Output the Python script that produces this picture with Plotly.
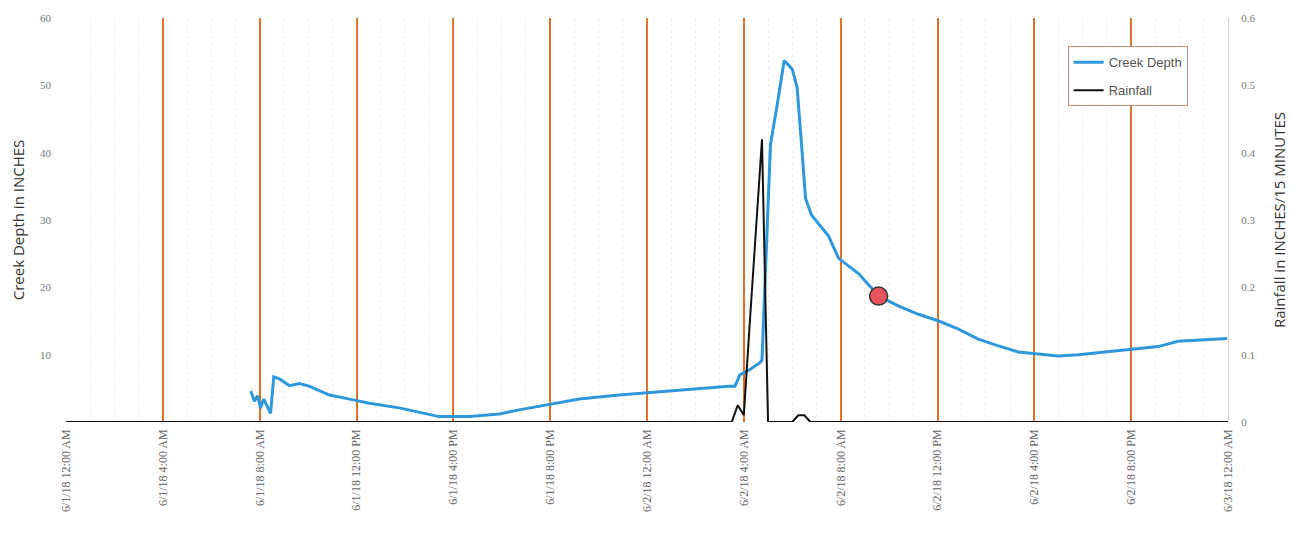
import plotly.graph_objects as go

# ---- data ----
depth_times = [
    "2018-06-01 07:38", "2018-06-01 07:47", "2018-06-01 07:55", "2018-06-01 08:02",
    "2018-06-01 08:10", "2018-06-01 08:17", "2018-06-01 08:27", "2018-06-01 08:35",
    "2018-06-01 08:49", "2018-06-01 09:14", "2018-06-01 09:39", "2018-06-01 10:04",
    "2018-06-01 10:28", "2018-06-01 10:53", "2018-06-01 11:43", "2018-06-01 12:32",
    "2018-06-01 13:46", "2018-06-01 14:36", "2018-06-01 15:25", "2018-06-01 16:40",
    "2018-06-01 17:54", "2018-06-01 18:43", "2018-06-01 19:57", "2018-06-01 21:12",
    "2018-06-01 22:51", "2018-06-02 00:30", "2018-06-02 02:09", "2018-06-02 03:23",
    "2018-06-02 03:38", "2018-06-02 03:50", "2018-06-02 04:15", "2018-06-02 04:40",
    "2018-06-02 04:45", "2018-06-02 04:55", "2018-06-02 05:06", "2018-06-02 05:23",
    "2018-06-02 05:40", "2018-06-02 06:00", "2018-06-02 06:12", "2018-06-02 06:22",
    "2018-06-02 06:33", "2018-06-02 06:48", "2018-06-02 07:30", "2018-06-02 07:55",
    "2018-06-02 08:45", "2018-06-02 09:34", "2018-06-02 10:24", "2018-06-02 11:13",
    "2018-06-02 12:03", "2018-06-02 12:52", "2018-06-02 13:41", "2018-06-02 14:31",
    "2018-06-02 15:20", "2018-06-02 16:10", "2018-06-02 16:59", "2018-06-02 17:49",
    "2018-06-02 18:38", "2018-06-02 19:53", "2018-06-02 21:07", "2018-06-02 21:56",
    "2018-06-02 22:46", "2018-06-02 23:58",
]
depth_values = [
    4.6, 3.1, 3.9, 2.1, 3.4, 2.5, 1.3, 6.7,
    6.4, 5.4, 5.7, 5.3, 4.7, 4.0, 3.4, 2.8,
    2.1, 1.4, 0.8, 0.8, 1.2, 1.8, 2.6, 3.4,
    4.0, 4.5, 5.0, 5.3, 5.3, 7.0, 7.8, 8.8,
    9.2, 25.0, 41.2, 47.2, 53.7, 52.4, 49.7, 42.0,
    33.2, 30.7, 27.6, 24.3, 22.0, 18.7, 17.2, 16.0,
    15.0, 13.8, 12.3, 11.3, 10.4, 10.1, 9.8, 10.0,
    10.3, 10.7, 11.2, 12.0, 12.2, 12.4,
]

rain_times = [
    "2018-06-01 00:00", "2018-06-02 03:30", "2018-06-02 03:45", "2018-06-02 04:00",
    "2018-06-02 04:15", "2018-06-02 04:30", "2018-06-02 04:45", "2018-06-02 05:00",
    "2018-06-02 06:00", "2018-06-02 06:15", "2018-06-02 06:30", "2018-06-02 06:45",
    "2018-06-03 00:00",
]
rain_values = [0, 0, 0.025, 0.01, 0.15, 0.28, 0.42, 0, 0, 0.01, 0.01, 0, 0]

marker_time = ["2018-06-02 09:34"]
marker_value = [18.7]

tick_times = [
    "2018-06-01 00:00", "2018-06-01 04:00", "2018-06-01 08:00", "2018-06-01 12:00",
    "2018-06-01 16:00", "2018-06-01 20:00", "2018-06-02 00:00", "2018-06-02 04:00",
    "2018-06-02 08:00", "2018-06-02 12:00", "2018-06-02 16:00", "2018-06-02 20:00",
    "2018-06-03 00:00",
]
tick_labels = [
    "6/1/18 12:00 AM", "6/1/18 4:00 AM", "6/1/18 8:00 AM", "6/1/18 12:00 PM",
    "6/1/18 4:00 PM", "6/1/18 8:00 PM", "6/2/18 12:00 AM", "6/2/18 4:00 AM",
    "6/2/18 8:00 AM", "6/2/18 12:00 PM", "6/2/18 4:00 PM", "6/2/18 8:00 PM",
    "6/3/18 12:00 AM",
]
left_ticks = [10, 20, 30, 40, 50, 60]
right_ticks = [0, 0.1, 0.2, 0.3, 0.4, 0.5, 0.6]

# ---- figure ----
fig = go.Figure()
fig.add_trace(go.Scatter(
    x=depth_times, y=depth_values, name="Creek Depth", mode="lines",
    line=dict(color="#2f98dc", width=3), yaxis="y", legendgroup="a",
))
fig.add_trace(go.Scatter(
    x=rain_times, y=rain_values, name="Rainfall", mode="lines",
    line=dict(color="#111111", width=2), yaxis="y2", legendgroup="b",
))
fig.add_trace(go.Scatter(
    x=marker_time, y=marker_value, mode="markers", showlegend=False,
    marker=dict(color="#e8525c", size=18, line=dict(color="#333333", width=1.5)),
    yaxis="y",
))

tick_font = dict(family="Liberation Serif, serif", size=11, color="#777777")

# page body has an 8px margin, so the figure is sized to fit the 1294x544 window
fig.update_layout(
    width=1286, height=536,
    margin=dict(l=58, r=66, t=10, b=122, autoexpand=False),
    paper_bgcolor="white", plot_bgcolor="white",
    showlegend=True,
    legend=dict(
        x=0.862, y=0.93, xanchor="left", yanchor="top",
        bgcolor="white", bordercolor="#c89070", borderwidth=1,
        font=dict(family="Liberation Sans, sans-serif", size=13, color="#555555"),
        traceorder="grouped", tracegroupgap=8,
    ),
    xaxis=dict(
        type="date", automargin=False,
        range=["2018-06-01 00:00", "2018-06-03 00:00"],
        tickvals=tick_times, ticktext=tick_labels, tickangle=-90,
        tickfont=dict(family="Liberation Serif, serif", size=12, color="#666666"),
        ticks="", ticklabelstandoff=4,
        showgrid=True, gridcolor="#e0702a", gridwidth=1.5,
        minor=dict(dtick=3600000, showgrid=True, gridcolor="#eeeeee",
                   griddash="dot", gridwidth=1),
        showline=False, zeroline=False,
    ),
    yaxis=dict(
        range=[0, 60], tickvals=left_ticks, tickfont=tick_font, automargin=False,
        showgrid=False, zeroline=False, showline=False,
        ticklabelstandoff=14,
        title=dict(text="Creek Depth in INCHES",
                   font=dict(family="Open Sans, sans-serif", size=15, color="#333333"),
                   standoff=14),
    ),
    yaxis2=dict(
        range=[0, 0.6], tickvals=right_ticks, tickfont=tick_font, automargin=False,
        overlaying="y", side="right",
        showgrid=False, zeroline=False,
        showline=True, linecolor="#d8d2b0", linewidth=1,
        ticklabelstandoff=10,
        title=dict(text="Rainfall in INCHES/15 MINUTES",
                   font=dict(family="Open Sans, sans-serif", size=15, color="#333333"),
                   standoff=20),
    ),
)

fig.write_html("out.html")
